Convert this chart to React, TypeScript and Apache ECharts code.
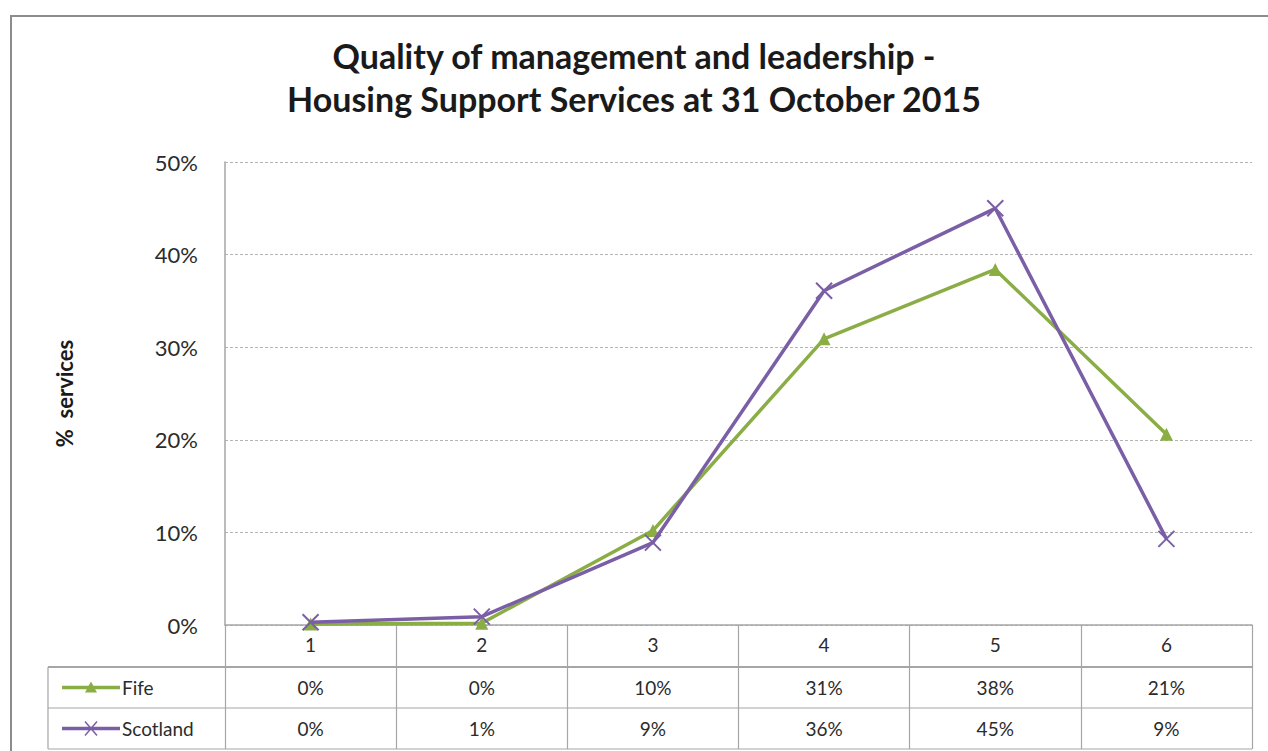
import React, { useEffect, useRef } from "react";
import * as echarts from "echarts";

const categories = ["1", "2", "3", "4", "5", "6"];
const fifeValues = [0.1, 0.2, 10.2, 30.9, 38.4, 20.6];
const scotlandValues = [0.3, 0.9, 8.9, 36.1, 45.0, 9.3];
const fifeLabels = ["0%", "0%", "10%", "31%", "38%", "21%"];
const scotlandLabels = ["0%", "1%", "9%", "36%", "45%", "9%"];
const yTicks = [0, 10, 20, 30, 40, 50];
const seriesNames = ["Fife", "Scotland"];

const W = 1268;
const H = 751;
const GRID_LEFT = 225;
const GRID_RIGHT = 1252;
const GRID_TOP = 162;
const GRID_BOTTOM = 625;
const ROW1 = 667;
const ROW2 = 708;
const ROW3 = 749;
const TABLE_LEFT = 48;
const FONT = "Lato, 'Open Sans', sans-serif";
const GREEN = "#8aae45";
const PURPLE = "#7b5fa6";
const LINE_GRAY = "#a6a6a6";

export default function App() {
  const ref = useRef<HTMLDivElement>(null);
  useEffect(() => {
    if (!ref.current) return;
    const chart = echarts.init(ref.current, null, { renderer: "svg" });
    const bandW = (GRID_RIGHT - GRID_LEFT) / categories.length;
    const graphics: any[] = [];
    // outer frame
    graphics.push({
      type: "rect",
      shape: { x: 11, y: 16, width: W + 20, height: H + 20 },
      style: { fill: "none", stroke: "#8c8c8c", lineWidth: 2 },
      silent: true,
    });
    // table lines
    [ROW1, ROW2, ROW3].forEach((y) => {
      graphics.push({
        type: "line",
        shape: { x1: TABLE_LEFT, y1: y, x2: GRID_RIGHT, y2: y },
        style: { stroke: LINE_GRAY, lineWidth: y === ROW1 ? 2 : 1.2 },
        silent: true,
      });
    });
    graphics.push({
      type: "line",
      shape: { x1: TABLE_LEFT, y1: ROW1, x2: TABLE_LEFT, y2: ROW3 },
      style: { stroke: LINE_GRAY, lineWidth: 1.2 },
      silent: true,
    });
    // table cell texts
    const rows = [
      { labels: fifeLabels, y: (ROW1 + ROW2) / 2 },
      { labels: scotlandLabels, y: (ROW2 + ROW3) / 2 },
    ];
    rows.forEach((r) => {
      r.labels.forEach((t, i) => {
        graphics.push({
          type: "text",
          x: GRID_LEFT + bandW * (i + 0.5),
          y: r.y,
          style: {
            text: t,
            font: `19px ${FONT}`,
            fill: "#2b2b2b",
            align: "center",
            verticalAlign: "middle",
          },
          silent: true,
        });
      });
    });
    // legend keys in table
    const keyY = [(ROW1 + ROW2) / 2, (ROW2 + ROW3) / 2];
    const colors = [GREEN, PURPLE];
    seriesNames.forEach((name, i) => {
      const y = keyY[i];
      graphics.push({
        type: "line",
        shape: { x1: 62, y1: y, x2: 120, y2: y },
        style: { stroke: colors[i], lineWidth: 3.5 },
        silent: true,
      });
      if (i === 0) {
        graphics.push({
          type: "polygon",
          shape: { points: [[91, y - 6], [85, y + 5], [97, y + 5]] },
          style: { fill: GREEN },
          silent: true,
        });
      } else {
        graphics.push({
          type: "line",
          shape: { x1: 85, y1: y - 7, x2: 97, y2: y + 7 },
          style: { stroke: PURPLE, lineWidth: 1.5 },
          silent: true,
        });
        graphics.push({
          type: "line",
          shape: { x1: 97, y1: y - 7, x2: 85, y2: y + 7 },
          style: { stroke: PURPLE, lineWidth: 1.5 },
          silent: true,
        });
      }
      graphics.push({
        type: "text",
        x: 122,
        y,
        style: {
          text: name,
          font: `19px ${FONT}`,
          fill: "#2b2b2b",
          align: "left",
          verticalAlign: "middle",
        },
        silent: true,
      });
    });

    chart.setOption({
      animation: false,
      backgroundColor: "#ffffff",
      title: {
        text: "Quality of management and leadership -\nHousing Support Services at 31 October 2015",
        left: "center",
        top: 29,
        textStyle: {
          fontFamily: FONT,
          fontWeight: "bold",
          fontSize: 34,
          lineHeight: 43,
          color: "#1a1a1a",
        },
      },
      grid: {
        left: GRID_LEFT,
        right: W - GRID_RIGHT,
        top: GRID_TOP,
        bottom: H - GRID_BOTTOM,
        containLabel: false,
      },
      xAxis: {
        type: "category",
        data: categories,
        boundaryGap: true,
        axisLine: { lineStyle: { color: LINE_GRAY, width: 1.5 } },
        axisTick: {
          show: true,
          interval: 0,
          length: H - GRID_BOTTOM - 2,
          lineStyle: { color: LINE_GRAY, width: 1.2 },
        },
        axisLabel: {
          margin: 10,
          fontFamily: FONT,
          fontSize: 19,
          color: "#2b2b2b",
          interval: 0,
        },
      },
      yAxis: {
        type: "value",
        min: yTicks[0],
        max: yTicks[yTicks.length - 1],
        interval: yTicks[1] - yTicks[0],
        name: "%  services",
        nameLocation: "middle",
        nameRotate: 90,
        nameGap: 150,
        nameTextStyle: {
          fontFamily: FONT,
          fontSize: 22,
          fontWeight: "bold",
          color: "#1a1a1a",
        },
        axisLine: { show: true, lineStyle: { color: LINE_GRAY, width: 1.5 } },
        axisTick: { show: false },
        axisLabel: {
          margin: 27,
          fontFamily: FONT,
          fontSize: 22,
          color: "#2b2b2b",
          formatter: "{value}%",
        },
        splitLine: {
          show: true,
          lineStyle: { color: "#b4b4b4", type: [3, 2], width: 1.2 },
        },
      },
      series: [
        {
          name: seriesNames[0],
          type: "line",
          data: fifeValues,
          symbol: "triangle",
          symbolSize: 13,
          lineStyle: { color: GREEN, width: 3.5 },
          itemStyle: { color: GREEN },
          z: 2,
        },
        {
          name: seriesNames[1],
          type: "line",
          data: scotlandValues,
          symbol: "path://M0,0L10,10M10,0L0,10",
          symbolSize: 16,
          lineStyle: { color: PURPLE, width: 3.5 },
          itemStyle: { color: PURPLE, borderColor: PURPLE, borderWidth: 2 },
          z: 3,
        },
      ],
      graphic: graphics,
    });
    return () => chart.dispose();
  }, []);
  return (
    <div
      ref={ref}
      style={{ position: "fixed", left: 0, top: 0, width: W, height: H }}
    />
  );
}
